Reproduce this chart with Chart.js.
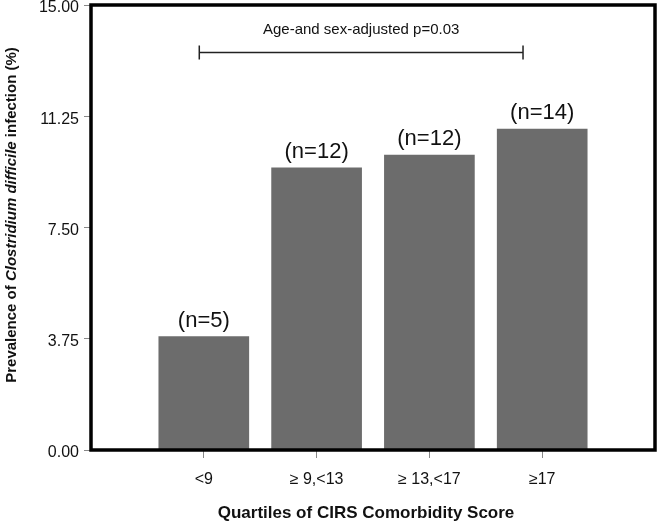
<!DOCTYPE html>
<html>
<head>
<meta charset="utf-8">
<script src="https://cdn.jsdelivr.net/npm/chart.js@4"></script>
<style>
  html, body { margin: 0; padding: 0; background: #fff; }
  #wrap { width: 660px; height: 525px; position: relative; }
</style>
</head>
<body>
<div id="wrap"><canvas id="chart"></canvas></div>
<script>
const categories = ['<9', '\u2265 9,<13', '\u2265 13,<17', '\u226517'];
const categoryPos = [1, 2, 3, 4];
const prevalence = [3.82, 9.51, 9.94, 10.82];
const nLabels = ['(n=5)', '(n=12)', '(n=12)', '(n=14)'];
const yTicks = [0, 3.75, 7.5, 11.25, 15];
const bracketX = [0.96, 3.83];
const bracketY = 13.4;
const pValueY = 14.15;
const pValueText = 'Age-and sex-adjusted p=0.03';

const FONT = 'Arial, "Liberation Sans", Helvetica, sans-serif';

const extras = {
  id: 'extras',
  afterDatasetsDraw(chart) {
    const { ctx, chartArea: a, scales: { x, y } } = chart;
    ctx.save();

    // n labels above bars
    const meta = chart.getDatasetMeta(0);
    ctx.fillStyle = '#111';
    ctx.font = '22px ' + FONT;
    ctx.textAlign = 'center';
    ctx.textBaseline = 'bottom';
    meta.data.forEach((bar, i) => {
      const p = bar.getProps(['x', 'y'], true);
      ctx.fillText(nLabels[i], p.x, p.y - 5);
    });

    // bracket + p value
    const x1 = x.getPixelForValue(bracketX[0]);
    const x2 = x.getPixelForValue(bracketX[1]);
    const by = y.getPixelForValue(bracketY);
    ctx.strokeStyle = '#222';
    ctx.lineWidth = 1.5;
    ctx.beginPath();
    ctx.moveTo(x1, by); ctx.lineTo(x2, by);
    ctx.moveTo(x1, by - 7); ctx.lineTo(x1, by + 7);
    ctx.moveTo(x2, by - 7); ctx.lineTo(x2, by + 7);
    ctx.stroke();
    ctx.font = '15px ' + FONT;
    ctx.textBaseline = 'middle';
    ctx.fillText(pValueText, (x1 + x2) / 2, y.getPixelForValue(pValueY));

    // frame
    ctx.strokeStyle = '#000';
    ctx.lineWidth = 3.5;
    ctx.strokeRect(a.left, a.top, a.right - a.left, a.bottom - a.top);

    // x axis title
    ctx.font = 'bold 17px ' + FONT;
    ctx.textBaseline = 'middle';
    ctx.fillStyle = '#111';
    ctx.fillText('Quartiles of CIRS Comorbidity Score', 366, 513);

    // y axis title with italic species name
    const parts = [
      ['bold 15px ' + FONT, 'Prevalence of '],
      ['bold italic 15px ' + FONT, 'Clostridium difficile'],
      ['bold 15px ' + FONT, ' infection (%)']
    ];
    let total = 0;
    parts.forEach(([f, t]) => { ctx.font = f; total += ctx.measureText(t).width; });
    ctx.translate(12, 215);
    ctx.rotate(-Math.PI / 2);
    ctx.textAlign = 'left';
    let cx = -total / 2;
    parts.forEach(([f, t]) => {
      ctx.font = f;
      ctx.fillText(t, cx, 0);
      cx += ctx.measureText(t).width;
    });
    ctx.restore();
  }
};

new Chart(document.getElementById('chart'), {
  type: 'bar',
  data: {
    datasets: [{
      data: categoryPos.map((p, i) => ({ x: p, y: prevalence[i] })),
      backgroundColor: '#6c6c6c',
      borderWidth: 0,
      barThickness: 90
    }]
  },
  options: {
    responsive: true,
    maintainAspectRatio: false,
    animation: false,
    layout: { padding: { top: 5, right: 5, left: 0, bottom: 0 } },
    plugins: { legend: { display: false }, tooltip: { enabled: false } },
    scales: {
      x: {
        type: 'linear',
        min: 0,
        max: 5,
        offset: false,
        afterBuildTicks: s => { s.ticks = categoryPos.map(v => ({ value: v })); },
        afterFit: s => { s.height = 75; s.paddingLeft = 0; s.paddingRight = 0; },
        grid: { offset: false, drawOnChartArea: false, tickLength: 8, tickColor: '#888', lineWidth: 1 },
        border: { display: false },
        ticks: {
          padding: 12,
          color: '#111',
          font: { family: FONT, size: 16 },
          callback: v => categories[categoryPos.indexOf(v)] ?? ''
        }
      },
      y: {
        min: 0,
        max: 15,
        afterBuildTicks: s => { s.ticks = yTicks.map(v => ({ value: v })); },
        afterFit: s => { s.width = 91; s.paddingTop = 0; s.paddingBottom = 0; },
        grid: { drawOnChartArea: false, tickLength: 7, tickColor: '#888', lineWidth: 1 },
        border: { display: false },
        ticks: {
          padding: 5,
          labelOffset: 3,
          color: '#111',
          font: { family: FONT, size: 16 },
          callback: v => Number(v).toFixed(2)
        }
      }
    }
  },
  plugins: [extras]
});
</script>
</body>
</html>
